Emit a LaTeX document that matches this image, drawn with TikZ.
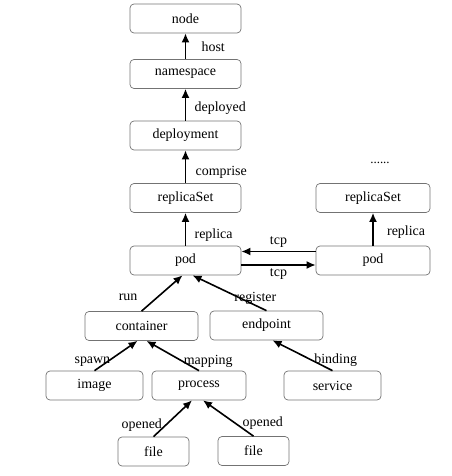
\documentclass[tikz,border=0pt]{standalone}
\usepackage{fontspec}
\setmainfont{Liberation Serif}
\usetikzlibrary{arrows.meta,positioning}
\tikzset{
  obj/.style={draw=black!55, line width=0.7bp, rounded corners=4bp, minimum height=29bp, font=\fontsize{14}{16}\selectfont},
  rel/.style={-{Latex[length=9bp,width=8bp]}, line width=1.6bp},
  lbl/.style={font=\fontsize{14}{16}\selectfont}
}
\begin{document}
\begin{tikzpicture}[x=1bp,y=-1bp]
  \useasboundingbox (0,0) rectangle (452,476);
  \foreach \n/\t/\x/\y/\w in {nd/node/185.5/18.5/111, ns/namespace/185.5/74/111,
      dep/deployment/185.5/135.5/111, rs/replicaSet/185.5/198/111, pod/pod/185.5/260.5/111,
      rs2/replicaSet/373/198/114, pod2/pod/373/260.5/114,
      cont/container/141.5/326/113, ep/endpoint/266.5/325.5/113,
      img/image/94.5/385.5/97, proc/process/199/385.5/94, svc/service/332.5/385.5/97,
      f1/file/153.5/451.5/71, f2/file/253.5/451/71}
    \node[obj, minimum width=\w bp] (\n) at (\x,\y) {\t};
  \node[lbl, font=\fontsize{13}{14}\selectfont] (more) at (380,163) {......};
  % main column
  \draw[rel] (ns) -- (nd) node[lbl, midway, right=12bp] {host};
  \draw[rel] (dep) -- (ns) node[lbl, pos=0.4, right=5bp] {deployed};
  \draw[rel] (rs) -- (dep) node[lbl, pos=0.32, right=6bp] {comprise};
  \draw[rel] (pod) -- (rs) node[lbl, pos=0.32, right=5bp] {replica};
  \draw[rel] (pod2) -- (rs2) node[lbl, pos=0.4, right=10bp] {replica};
  \draw[rel] ([yshift=9bp]pod2.west) -- ([yshift=9bp]pod.east) node[lbl, midway, above] {tcp};
  \draw[rel] ([yshift=-4.5bp]pod.east) -- ([yshift=-4.5bp]pod2.west) node[lbl, midway, below=0bp] {tcp};
  % lower tree
  \draw[rel] (cont.north) -- ([xshift=-3bp]pod.south) node[lbl, pos=0.39, left=16bp] {run};
  \draw[rel] (ep.north) -- ([xshift=7bp]pod.south) node[lbl, pos=0.34, xshift=14bp] {register};
  \draw[rel] (img.north) -- ([xshift=-4bp]cont.south) node[lbl, pos=0.3, xshift=-15bp] {spawn};
  \draw[rel] (proc.north) -- ([xshift=5bp]cont.south) node[lbl, pos=0.3, xshift=25bp] {mapping};
  \draw[rel] (svc.north) -- ([xshift=6bp]ep.south) node[lbl, pos=0.33, xshift=23bp] {binding};
  \draw[rel] (f1.north) -- ([xshift=-7bp]proc.south) node[lbl, pos=0.32, xshift=-24bp] {opened};
  \draw[rel] (f2.north) -- ([xshift=4bp]proc.south) node[lbl, pos=0.35, xshift=27bp] {opened};
\end{tikzpicture}
\end{document}
